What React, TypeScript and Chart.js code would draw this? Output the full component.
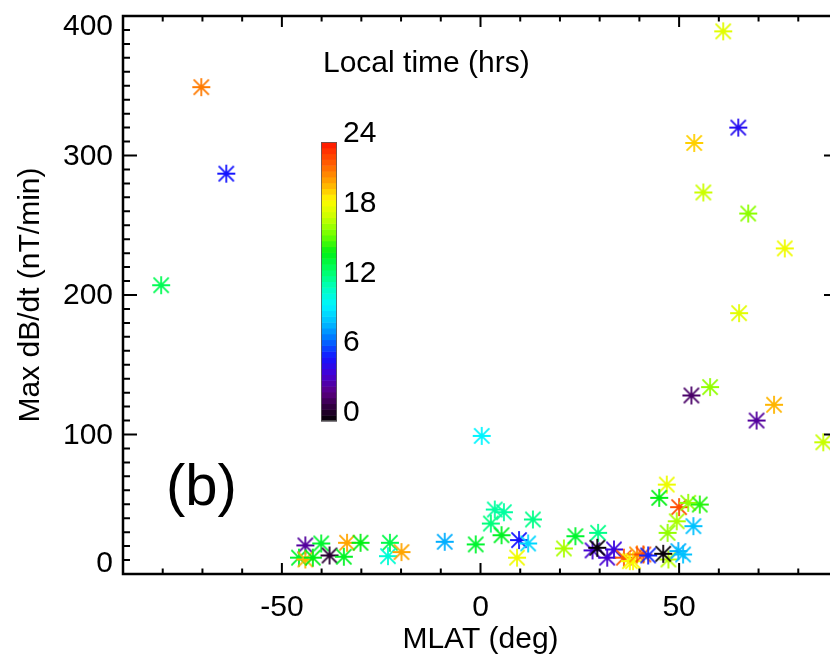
import React, { useEffect, useRef } from "react";
import { Chart, registerables } from "chart.js";

Chart.register(...registerables);

// MLAT (deg)
const mlat = [
  -70.3, -64.0, -80.4, 61.1, 64.9, 53.8, 56.1, 67.4, 76.6, 65.1,
  0.3, 53.1, 57.8, 69.5, 73.9, 86.3,
  -9.0, -1.2, 3.6, 5.9, 2.6, 5.3, 9.7, 12.0, 9.2, 13.2, 21.0, 23.9, 29.6,
  28.2, 31.9, 33.6, 36.1, 38.4, 37.6, 39.4, 41.0, 42.2, 47.3, 49.8, 51.0,
  46.9, 45.0, 50.0, 49.4, 47.1, 53.6, 52.3, 55.2,
  -44.1, -45.7, -44.1, -42.2, -40.1, -38.0, -34.4, -33.6, -30.2, -22.8, -23.3, -19.9,
  29.4, 46.0,
];
// Max dB/dt (nT/min)
const dbdt = [
  349, 287, 207, 389, 320, 309, 273.5, 258.4, 233.4, 187,
  99, 128, 134, 110, 121.3, 94.4,
  23.1, 21.2, 46.2, 44.3, 36.2, 27.8, 24.3, 21.9, 11.7, 39.1, 18.3, 27.1, 29.5,
  16.9, 11.7, 17.6, 11.7, 9.2, 9.2, 14.0, 14.0, 13.3, 10.4, 16.4, 14.0,
  64.1, 54.6, 47.9, 37.8, 29.5, 34.3, 51.0, 49.8,
  20.5, 11.7, 10.4, 11.7, 21.9, 13.3, 12.4, 22.4, 22.4, 22.4, 12.8, 15.7,
  18.8, 14.5,
];
// Local time (hrs)
const localTime = [
  21.5, 5.5, 13.3, 18.2, 5.0, 19.8, 17.6, 16.5, 18.6, 18.2,
  10.0, 2.0, 16.6, 3.0, 20.3, 17.5,
  8.2, 14.0, 12.0, 12.0, 12.6, 14.2, 5.5, 9.2, 18.6, 12.4, 17.0, 14.0, 12.4,
  4.0, 4.0, 4.4, 22.3, 19.0, 18.8, 21.0, 22.6, 5.8, 17.2, 8.2, 8.6,
  18.5, 14.5, 22.6, 17.0, 16.6, 8.6, 16.6, 15.0,
  3.0, 14.0, 20.3, 14.5, 14.0, 1.0, 14.2, 20.6, 14.5, 13.5, 11.0, 20.6,
  0.2, 0.2,
];

const xTickLabels = ["-50", "0", "50"];
const xTickValues = [-50, 0, 50];
const yTickValues = [0, 100, 200, 300, 400];
const cbTickValues = [0, 6, 12, 18, 24];

const X_MIN = -90;
const X_MAX = 90;
const Y_MIN = 0;
const Y_MAX = 400;

const cmapStops: [number, number[]][] = [
  [0, [0, 0, 0]],
  [1, [40, 0, 50]],
  [2.5, [90, 0, 130]],
  [4, [70, 0, 210]],
  [5.5, [20, 20, 255]],
  [7, [0, 110, 255]],
  [8.5, [0, 190, 255]],
  [10, [0, 245, 255]],
  [11.5, [0, 255, 190]],
  [13, [0, 255, 100]],
  [14.5, [0, 240, 20]],
  [16, [110, 255, 0]],
  [17.5, [200, 255, 0]],
  [19, [255, 250, 0]],
  [20.5, [255, 170, 0]],
  [22, [255, 100, 0]],
  [24, [255, 20, 0]],
];

function ltColor(t: number): string {
  const v = Math.max(0, Math.min(24, t));
  for (let i = 0; i < cmapStops.length - 1; i++) {
    const [a, ca] = cmapStops[i];
    const [b, cb] = cmapStops[i + 1];
    if (v >= a && v <= b) {
      const f = (v - a) / (b - a);
      const c = ca.map((x, k) => Math.round(x + (cb[k] - x) * f));
      return `rgb(${c[0]},${c[1]},${c[2]})`;
    }
  }
  const c = cmapStops[cmapStops.length - 1][1];
  return `rgb(${c[0]},${c[1]},${c[2]})`;
}

// IDL-style asterisk symbol as an image point style
const starCache: Record<string, HTMLCanvasElement> = {};
function starImage(color: string): HTMLCanvasElement {
  if (starCache[color]) return starCache[color];
  const size = 22;
  const c = document.createElement("canvas");
  c.width = size;
  c.height = size;
  const g = c.getContext("2d")!;
  const m = size / 2;
  const r = 9;
  const d = 7.6;
  g.strokeStyle = color;
  g.lineWidth = 1.8;
  g.lineCap = "butt";
  g.beginPath();
  g.moveTo(m - r, m);
  g.lineTo(m + r, m);
  g.moveTo(m, m - r);
  g.lineTo(m, m + r);
  g.moveTo(m - d, m - d);
  g.lineTo(m + d, m + d);
  g.moveTo(m - d, m + d);
  g.lineTo(m + d, m - d);
  g.stroke();
  starCache[color] = c;
  return c;
}

const FONT = '"Liberation Sans", Arial, Helvetica, sans-serif';

const axesPlugin = {
  id: "idlAxes",
  afterDraw(chart: any) {
    const ctx = chart.ctx as CanvasRenderingContext2D;
    const xs = chart.scales.x;
    const ys = chart.scales.y;
    const { left, right, top, bottom } = chart.chartArea;
    ctx.save();

    // colorbar
    const cbL = 321, cbR = 337, cbT = 142, cbB = 421;
    const steps = 48;
    for (let i = 0; i < steps; i++) {
      const t0 = (i / steps) * 24;
      const y1 = cbB - ((i + 1) / steps) * (cbB - cbT);
      const y0 = cbB - (i / steps) * (cbB - cbT);
      ctx.fillStyle = ltColor(t0 + 0.25);
      ctx.fillRect(cbL, y1, cbR - cbL, y0 - y1 + 0.5);
    }
    ctx.strokeStyle = "rgba(90,90,90,0.8)";
    ctx.lineWidth = 1;
    ctx.strokeRect(cbL + 0.5, cbT + 0.5, cbR - cbL - 1, cbB - cbT - 1);
    ctx.fillStyle = "#000";
    ctx.font = `30px ${FONT}`;
    ctx.textAlign = "left";
    ctx.textBaseline = "alphabetic";
    cbTickValues.forEach((v) => {
      const y = cbB - (v / 24) * (cbB - cbT);
      ctx.fillText(String(v), 343, y);
    });
    ctx.fillText("Local time (hrs)", 323, 72);

    // panel label
    ctx.font = `58px ${FONT}`;
    ctx.fillText("(b)", 166, 505);

    // axis box
    ctx.strokeStyle = "#000";
    ctx.lineWidth = 2.5;
    ctx.strokeRect(left, top, right - left, bottom - top);

    // ticks
    ctx.lineWidth = 2;
    ctx.beginPath();
    for (let v = X_MIN; v <= X_MAX; v += 10) {
      const px = xs.getPixelForValue(v);
      const len = v % 50 === 0 ? 11 : 5.5;
      ctx.moveTo(px, bottom);
      ctx.lineTo(px, bottom - len);
      ctx.moveTo(px, top);
      ctx.lineTo(px, top + len);
    }
    for (let v = Y_MIN; v <= Y_MAX; v += 10) {
      const py = ys.getPixelForValue(v);
      const len = v % 100 === 0 ? 14 : 7;
      ctx.moveTo(left, py);
      ctx.lineTo(left + len, py);
      ctx.moveTo(right, py);
      ctx.lineTo(right - len, py);
    }
    ctx.stroke();

    // tick labels
    ctx.font = `30px ${FONT}`;
    ctx.fillStyle = "#000";
    ctx.textAlign = "right";
    ctx.textBaseline = "middle";
    yTickValues.forEach((v, i) => {
      let py = ys.getPixelForValue(v);
      if (i === 0) py -= 11;
      if (i === yTickValues.length - 1) py += 10;
      ctx.fillText(String(v), 113, py + 1);
    });
    ctx.textAlign = "center";
    ctx.textBaseline = "alphabetic";
    xTickValues.forEach((v, i) => {
      const px = xs.getPixelForValue(v);
      ctx.fillText(xTickLabels[i], px, 616);
    });

    // axis titles
    ctx.fillText("MLAT (deg)", (left + right) / 2, 648);
    ctx.save();
    ctx.translate(39, (top + bottom) / 2);
    ctx.rotate(-Math.PI / 2);
    ctx.textAlign = "center";
    ctx.fillText("Max dB/dt (nT/min)", 0, 0);
    ctx.restore();

    ctx.restore();
  },
};

export default function App() {
  const ref = useRef<HTMLCanvasElement | null>(null);
  useEffect(() => {
    if (!ref.current) return;
    const colors = localTime.map(ltColor);
    const stars = colors.map(starImage);
    const chart = new Chart(ref.current, {
      type: "scatter",
      data: {
        datasets: [
          {
            label: "events",
            data: mlat.map((x, i) => ({ x, y: dbdt[i] })),
            pointStyle: stars as any,
            pointRadius: 10,
            pointBorderWidth: 0,
            pointBorderColor: colors,
            pointBackgroundColor: colors,
            clip: false as any,
          },
        ],
      },
      options: {
        animation: false,
        responsive: false,
        devicePixelRatio: 1,
        layout: { padding: { left: 123, top: 16, right: 22, bottom: 87 } },
        plugins: { legend: { display: false }, tooltip: { enabled: false } },
        events: [],
        scales: {
          x: { type: "linear", min: X_MIN, max: X_MAX, display: false },
          y: { type: "linear", min: Y_MIN, max: Y_MAX, display: false },
        },
      },
      plugins: [axesPlugin],
    });
    return () => chart.destroy();
  }, []);
  return (
    <div
      style={{
        position: "fixed",
        left: 0,
        top: 0,
        width: 830,
        height: 661,
        overflow: "hidden",
        background: "#fff",
      }}
    >
      <canvas ref={ref} width={860} height={661} style={{ display: "block" }} />
    </div>
  );
}
